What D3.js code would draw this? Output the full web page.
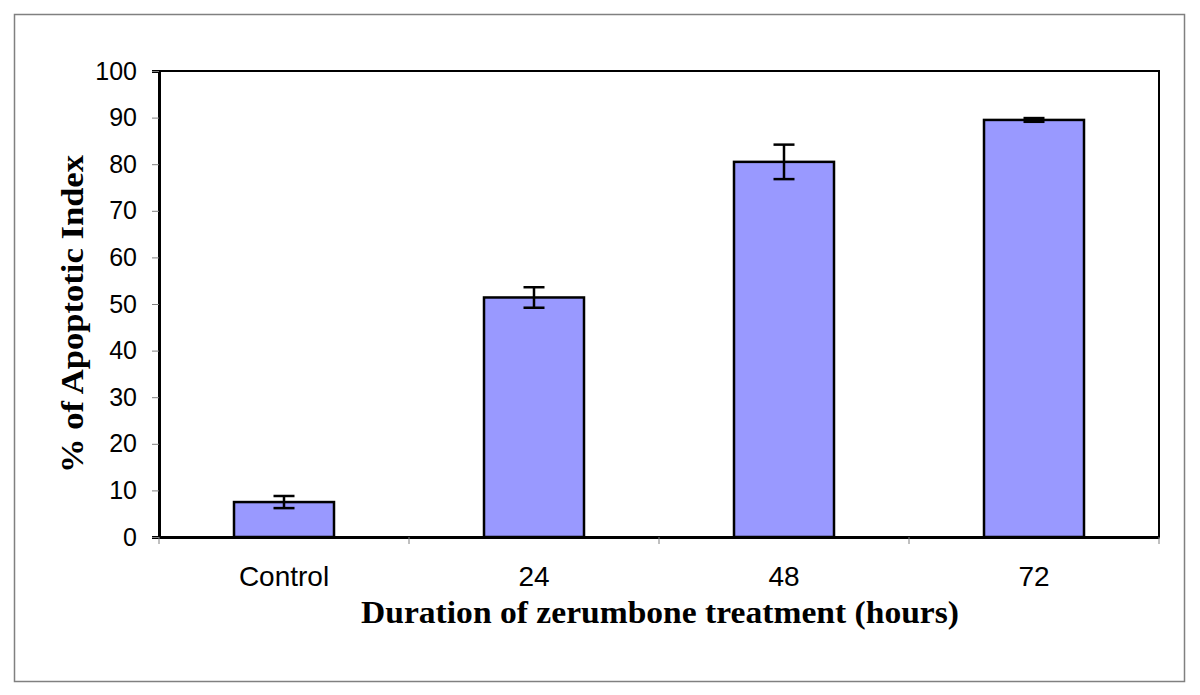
<!DOCTYPE html>
<html>
<head>
<meta charset="utf-8">
<script src="https://cdn.jsdelivr.net/npm/d3@7"></script>
<style>
  body { margin: 0; background: #fff; }
  svg { display: block; }
</style>
</head>
<body>
<svg id="chart"></svg>
<script>
// data
var categories = ["Control", "24", "48", "72"];
var values = [7.5, 51.4, 80.5, 89.5];
var errors = [1.3, 2.2, 3.7, 0.4];
var yTicks = [0, 10, 20, 30, 40, 50, 60, 70, 80, 90, 100];

var W = 1200, H = 695;
var svg = d3.select("#chart").attr("width", W).attr("height", H);

// outer frame
svg.append("rect")
    .attr("x", 14.5).attr("y", 14.5)
    .attr("width", 1170).attr("height", 667)
    .attr("fill", "#fff")
    .attr("stroke", "#808080")
    .attr("stroke-width", 1.5);

var pLeft = 159, pRight = 1159, pTop = 71, pBottom = 537;

var xb = d3.scaleBand().domain(categories).range([pLeft, pRight]);
var y = d3.scaleLinear().domain([0, 100]).range([pBottom, pTop]);

// plot area border
svg.append("rect")
    .attr("x", pLeft).attr("y", pTop)
    .attr("width", pRight - pLeft).attr("height", pBottom - pTop)
    .attr("fill", "none")
    .attr("stroke", "#000")
    .attr("stroke-width", 2);

// y axis
var yAxis = svg.append("g")
    .attr("transform", "translate(" + pLeft + ",0)")
    .call(d3.axisLeft(y).tickValues(yTicks).tickSize(7).tickPadding(15));
yAxis.select(".domain").attr("stroke", "#000").attr("stroke-width", 3);
yAxis.selectAll(".tick line").attr("stroke", "#808080").attr("stroke-width", 1);
yAxis.selectAll("text")
    .attr("font-family", "Liberation Sans, Arial, sans-serif")
    .attr("font-size", 25)
    .attr("fill", "#000");

// x axis
var xAxis = svg.append("g")
    .attr("transform", "translate(0," + pBottom + ")")
    .call(d3.axisBottom(xb).tickSize(0).tickPadding(29));
xAxis.select(".domain").attr("stroke", "#000").attr("stroke-width", 3);
xAxis.selectAll("text")
    .attr("font-family", "Liberation Sans, Arial, sans-serif")
    .attr("font-size", 28)
    .attr("fill", "#000");

// category boundary ticks
var bounds = categories.map(function (c) { return xb(c); }).concat([pRight]);
svg.append("g").selectAll("line").data(bounds).enter().append("line")
    .attr("x1", function (d) { return d; })
    .attr("x2", function (d) { return d; })
    .attr("y1", pBottom)
    .attr("y2", pBottom + 7)
    .attr("stroke", "#808080")
    .attr("stroke-width", 1);

// bars
var bw = 100;
svg.append("g").selectAll("rect").data(values).enter().append("rect")
    .attr("x", function (d, i) { return xb(categories[i]) + xb.bandwidth() / 2 - bw / 2; })
    .attr("y", function (d) { return y(d); })
    .attr("width", bw)
    .attr("height", function (d) { return y(0) - y(d); })
    .attr("fill", "#9999ff")
    .attr("stroke", "#000")
    .attr("stroke-width", 2.5);

// error bars
var eg = svg.append("g").attr("stroke", "#000").attr("stroke-width", 2.5);
values.forEach(function (v, i) {
    var cx = xb(categories[i]) + xb.bandwidth() / 2;
    var hi = y(v + errors[i]), lo = y(v - errors[i]);
    eg.append("line").attr("x1", cx).attr("x2", cx).attr("y1", hi).attr("y2", lo);
    eg.append("line").attr("x1", cx - 10.5).attr("x2", cx + 10.5).attr("y1", hi).attr("y2", hi);
    eg.append("line").attr("x1", cx - 10.5).attr("x2", cx + 10.5).attr("y1", lo).attr("y2", lo);
});

// axis titles
svg.append("text")
    .attr("x", 660)
    .attr("y", 623)
    .attr("text-anchor", "middle")
    .attr("font-family", "Liberation Serif, Times New Roman, serif")
    .attr("font-weight", "bold")
    .attr("font-size", 32)
    .attr("textLength", 598)
    .attr("lengthAdjust", "spacingAndGlyphs")
    .text("Duration of zerumbone treatment (hours)");

svg.append("text")
    .attr("transform", "translate(83,314) rotate(-90)")
    .attr("text-anchor", "middle")
    .attr("font-family", "Liberation Serif, Times New Roman, serif")
    .attr("font-weight", "bold")
    .attr("font-size", 32)
    .attr("textLength", 318)
    .attr("lengthAdjust", "spacingAndGlyphs")
    .text("% of Apoptotic Index");
</script>
</body>
</html>
